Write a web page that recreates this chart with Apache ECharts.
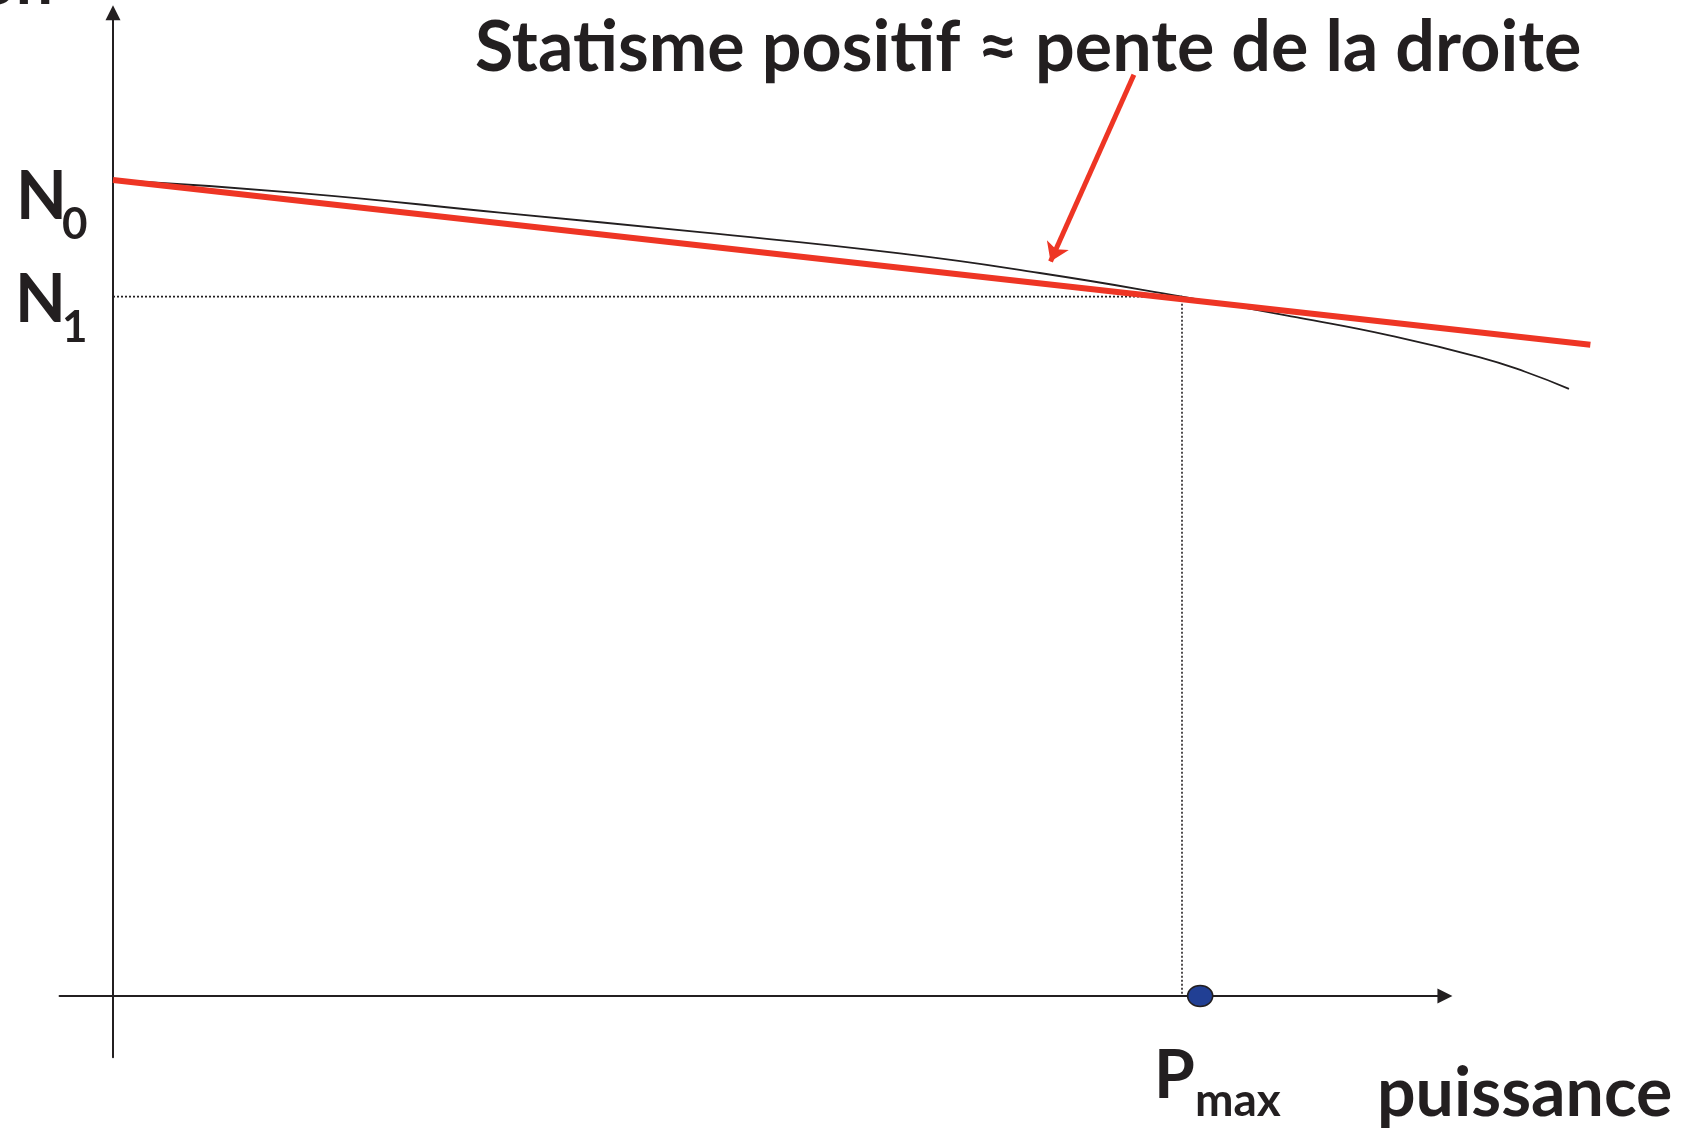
<!DOCTYPE html>
<html>
<head>
<meta charset="utf-8">
<script src="https://cdn.jsdelivr.net/npm/echarts@6/dist/echarts.min.js"></script>
<style>
    html, body { margin: 0; padding: 0; background: #ffffff; }
    #main { width: 1692px; height: 1130px; }
</style>
</head>
<body>
<div id="main"></div>
<script>
    // puissance (Pmax = 1) et vitesse (N0 = 1)
    var powerPts = [0, 0.175, 0.362, 0.549, 0.736, 0.867, 1.0, 1.110, 1.196, 1.278, 1.321, 1.362];
    var speedPts = [1.0, 0.984, 0.960, 0.936, 0.910, 0.886, 0.857, 0.831, 0.809, 0.783, 0.765, 0.744];
    var droopPower = [0, 1.382];
    var droopSpeed = [1.0, 0.798];
    var n0 = 1.0;
    var n1 = 0.857;
    var pMax = 1.0;
    var pMaxDot = [1.017, 0];
    var arrowFrom = [0.955, 1.129];
    var arrowTo = [0.877, 0.900];

    var dark = '#231f20';
    var red = '#ee3524';
    var font = 'Lato, "Open Sans", sans-serif';

    var curve = powerPts.map(function (p, i) { return [p, speedPts[i]]; });
    var droop = droopPower.map(function (p, i) { return [p, droopSpeed[i]]; });

    function txt(x, y, s, size, align) {
        return {
            type: 'text', x: x, y: y, z: 100,
            style: {
                text: s, fill: dark, fontFamily: font, fontWeight: 'bold',
                fontSize: size, align: align || 'left', verticalAlign: 'middle'
            }
        };
    }

    var hiddenAxis = { type: 'value', show: false, gridIndex: 0 };

    function shownAxis(min, max) {
        return {
            type: 'value', gridIndex: 1, min: min, max: max,
            axisLine: {
                onZero: true, symbol: ['none', 'triangle'], symbolSize: [15, 15],
                lineStyle: { color: dark, width: 2 }
            },
            axisTick: { show: false }, axisLabel: { show: false }, splitLine: { show: false }
        };
    }

    var my_chart = echarts.init(document.getElementById('main'), null, { renderer: 'canvas' });
    var option = {
        backgroundColor: '#ffffff',
        animation: false,
        grid: [
            // grille des données (plus large, pour que les courbes dépassent la flèche)
            { left: 59.55, top: 12.7, width: 1550.05, height: 1044.5, outerBoundsMode: 'none' },
            // grille des axes visibles
            { left: 59.55, top: 12.7, width: 1385.4, height: 1044.5, outerBoundsMode: 'none' }
        ],
        xAxis: [
            Object.assign({}, hiddenAxis, { min: -0.05, max: 1.40 }),
            shownAxis(-0.05, 1.246)
        ],
        yAxis: [
            Object.assign({}, hiddenAxis, { min: -0.075, max: 1.205 }),
            shownAxis(-0.075, 1.205)
        ],
        series: [
            {
                // repères N1 / Pmax
                type: 'line', data: [[0, n1], [pMax, n1], [pMax, 0]],
                showSymbol: false, z: 1,
                lineStyle: { color: dark, width: 1.6, type: [2, 2] }
            },
            {
                type: 'line', data: curve, smooth: true, showSymbol: false, z: 2,
                lineStyle: { color: dark, width: 1.8 }
            },
            {
                type: 'line', data: droop, showSymbol: false, z: 3,
                lineStyle: { color: red, width: 6 }
            },
            {
                type: 'lines', coordinateSystem: 'cartesian2d', z: 4,
                symbol: ['none', 'arrow'], symbolSize: 18,
                lineStyle: { color: red, width: 5, opacity: 1, curveness: 0 },
                data: [{ coords: [arrowFrom, arrowTo] }]
            },
            {
                type: 'scatter', data: [pMaxDot], symbol: 'circle', symbolSize: [25, 21], z: 5,
                itemStyle: { color: '#213f94', borderColor: dark, borderWidth: 1.5, opacity: 1 }
            }
        ],
        graphic: [
            txt(53, -17, 'Vitesse de rotation', 66, 'right'),
            txt(475, 48.5, 'Statisme positif \u2248 pente de la droite', 70),
            txt(16, 198, 'N', 66),
            txt(62, 225, '0', 44),
            txt(15, 301, 'N', 66),
            txt(62, 328, '1', 44),
            txt(1154, 1077, 'P', 66),
            txt(1195, 1101, 'max', 46),
            txt(1377, 1094.5, 'puissance', 68)
        ]
    };
    my_chart.setOption(option);
</script>
</body>
</html>
